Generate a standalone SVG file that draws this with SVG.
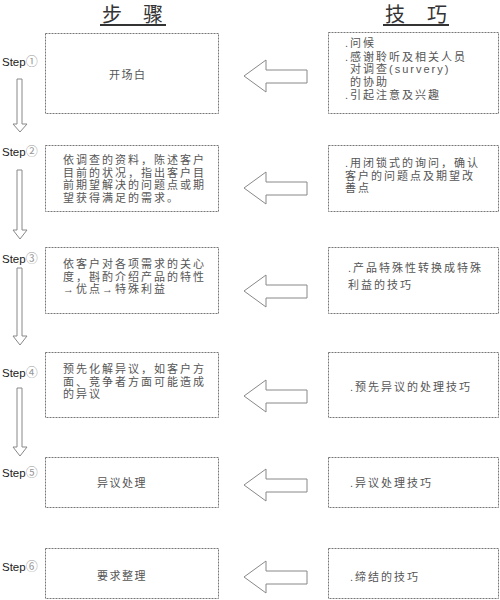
<svg xmlns="http://www.w3.org/2000/svg" width="500" height="600" viewBox="0 0 500 600">
<style>
.bg{fill:#fff}
.box{fill:#fff;stroke:#777;stroke-width:1;stroke-dasharray:2 1}
.arr{fill:#fff;stroke:#888;stroke-width:1;stroke-linejoin:miter}
.t{font-family:"Liberation Sans","Noto Sans CJK SC",sans-serif;font-size:11px;fill:#555;letter-spacing:2px}
.ts{font-family:"Liberation Sans","Noto Sans CJK SC",sans-serif;font-size:11px;fill:#555;letter-spacing:1.5px}
.step{font-family:"Liberation Sans","Noto Sans CJK SC",sans-serif;font-size:11.5px;fill:#222}
.circ{fill:#999;font-size:12px}
.title{font-family:"Noto Sans CJK SC",sans-serif;font-size:20px;fill:#333}
.ul{stroke:#333;stroke-width:2}
</style>
<rect class="bg" x="0" y="0" width="500" height="600"/>

<g id="titles">
<text class="title" x="102" y="22">步</text>
<text class="title" x="143" y="22">骤</text>
<line class="ul" x1="100" y1="25" x2="166" y2="25"/>
<text class="title" x="385" y="22">技</text>
<text class="title" x="427" y="22">巧</text>
<line class="ul" x1="383" y1="25" x2="449" y2="25"/>
</g>

<g id="steps">
<text class="step" x="2" y="66">Step<tspan class="circ">①</tspan></text>
<text class="step" x="2" y="156">Step<tspan class="circ">②</tspan></text>
<text class="step" x="2" y="263">Step<tspan class="circ">③</tspan></text>
<text class="step" x="2" y="377">Step<tspan class="circ">④</tspan></text>
<text class="step" x="2" y="477">Step<tspan class="circ">⑤</tspan></text>
<text class="step" x="2" y="571">Step<tspan class="circ">⑥</tspan></text>
</g>

<g id="connectors">
<path class="arr" d="M17,79 H22 V124 H27 L20,132 L13,124 H17 Z"/>
<path class="arr" d="M17,170 H22 V230 H27 L20,239 L13,230 H17 Z"/>
<path class="arr" d="M17,268 H22 V336 H27 L20,345 L13,336 H17 Z"/>
<path class="arr" d="M17,388 H22 V447 H27 L20,456 L13,447 H17 Z"/>
<path class="arr" d="M244,76 L266,60 V70 H307 V83 H266 V92 Z"/>
<path class="arr" d="M244,188 L266,172 V182 H307 V195 H266 V204 Z"/>
<path class="arr" d="M244,291 L266,275 V285 H307 V298 H266 V307 Z"/>
<path class="arr" d="M244,396 L266,380 V390 H307 V403 H266 V412 Z"/>
<path class="arr" d="M244,485 L266,469 V479 H307 V492 H266 V501 Z"/>
<path class="arr" d="M244,577 L266,561 V571 H307 V584 H266 V593 Z"/>
</g>

<g id="step1">
<rect class="box" x="45.5" y="33.5" width="173" height="80"/>
<text class="ts" x="109" y="79">开场白</text>
</g>
<g id="step2">
<rect class="box" x="45.5" y="145.5" width="173" height="66"/>
<text class="t" x="63" y="164">依调查的资料，陈述客户<tspan x="63" dy="12.5">目前的状况，指出客户目</tspan><tspan x="63" dy="12.5">前期望解决的问题点或期</tspan><tspan x="63" dy="12.5">望获得满足的需求。</tspan></text>
</g>
<g id="step3">
<rect class="box" x="45.5" y="247.5" width="173" height="66"/>
<text class="t" x="63" y="268">依客户对各项需求的关心<tspan x="63" dy="12.5">度，斟酌介绍产品的特性</tspan><tspan x="63" dy="12.5">→优点→特殊利益</tspan></text>
</g>
<g id="step4">
<rect class="box" x="45.5" y="352.5" width="173" height="65"/>
<text class="t" x="63" y="373">预先化解异议，如客户方<tspan x="63" dy="12.5">面、竞争者方面可能造成</tspan><tspan x="63" dy="12.5">的异议</tspan></text>
</g>
<g id="step5">
<rect class="box" x="45.5" y="457.5" width="173" height="50"/>
<text class="ts" x="97" y="487">异议处理</text>
</g>
<g id="step6">
<rect class="box" x="45.5" y="548.5" width="173" height="50"/>
<text class="ts" x="97" y="580">要求整理</text>
</g>

<g id="tip1">
<rect class="box" x="328.5" y="32.5" width="170" height="81"/>
<text class="t" x="345" y="47">.问候<tspan x="345" dy="13.5">.感谢聆听及相关人员</tspan><tspan x="350" dy="12.5">对调查(survery)</tspan><tspan x="350" dy="12.5">的协助</tspan><tspan x="345" dy="13">.引起注意及兴趣</tspan></text>
</g>
<g id="tip2">
<rect class="box" x="328.5" y="145.5" width="170" height="66"/>
<text class="t" x="345" y="167">.用闭锁式的询问，确认<tspan x="345" dy="12.5">客户的问题点及期望改</tspan><tspan x="345" dy="12.5">善点</tspan></text>
</g>
<g id="tip3">
<rect class="box" x="328.5" y="247.5" width="170" height="66"/>
<text class="t" x="348" y="272">.产品特殊性转换成特殊<tspan x="348" dy="17">利益的技巧</tspan></text>
</g>
<g id="tip4">
<rect class="box" x="328.5" y="352.5" width="170" height="65"/>
<text class="t" x="350" y="391">.预先异议的处理技巧</text>
</g>
<g id="tip5">
<rect class="box" x="328.5" y="457.5" width="170" height="50"/>
<text class="t" x="350" y="487">.异议处理技巧</text>
</g>
<g id="tip6">
<rect class="box" x="328.5" y="548.5" width="170" height="50"/>
<text class="t" x="350" y="581">.缔结的技巧</text>
</g>
</svg>
